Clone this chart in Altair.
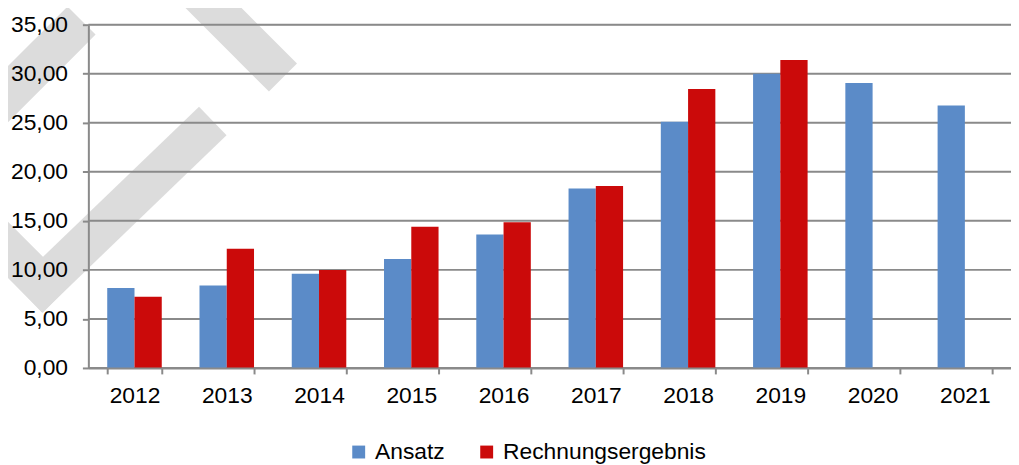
import altair as alt
import pandas as pd

# ---- data ----
years = ["2012", "2013", "2014", "2015", "2016", "2017", "2018", "2019", "2020", "2021"]
ansatz = [8.15, 8.4, 9.6, 11.1, 13.6, 18.3, 25.1, 30.0, 29.05, 26.75]
rechnung = [7.25, 12.15, 10.0, 14.4, 14.85, 18.55, 28.45, 31.4, None, None]
series = ["Ansatz", "Rechnungsergebnis"]
y_ticks = [0, 5, 10, 15, 20, 25, 30, 35]

# ---- styles ----
colors = ["#5B8BC8", "#CB0A0A"]
FONT = "Liberation Sans"
GRID = "#8A8A8A"
STRIPE = "#DCDCDC"
FS = 23

rows = []
for i, yr in enumerate(years):
    rows.append({"Jahr": yr, "Reihe": series[0], "Wert": ansatz[i]})
    rows.append({"Jahr": yr, "Reihe": series[1], "Wert": rechnung[i]})
df = pd.DataFrame(rows)

yscale = alt.Scale(domain=[0, 35], nice=False, zero=True)
yaxis = alt.Axis(
    values=y_ticks,
    labelExpr="replace(format(datum.value, '.2f'), '.', ',')",
    grid=False,
    domainColor=GRID, domainWidth=2,
    tickColor=GRID, tickWidth=2, tickSize=6,
    labelPadding=15, labelFontSize=FS, labelFont=FONT, labelColor="#000000",
    zindex=1, title=None,
)

# decorative watermark stripes (pixel positions, plot-area coordinates)
stripe_segments = [
    (-21, 10, -119, 108),
    (182, 39, 96, -47),
    (111, 111, -46, 262),
    (-46, 262, -119, 189),
]
stripes = []
for (x1, y1, x2, y2) in stripe_segments:
    stripes.append(
        alt.Chart(pd.DataFrame({"a": [0]})).mark_rule(
            color=STRIPE, strokeWidth=40, strokeCap="square"
        ).encode(x=alt.value(x1), y=alt.value(y1), x2=alt.value(x2), y2=alt.value(y2))
    )

grid = alt.Chart(pd.DataFrame({"v": y_ticks})).mark_rule(
    color=GRID, strokeWidth=2
).encode(y=alt.Y("v:Q", scale=yscale, axis=yaxis))

bars = alt.Chart(df).mark_bar().encode(
    x=alt.X(
        "Jahr:N", sort=years,
        scale=alt.Scale(paddingInner=0.409, paddingOuter=0.2045),
        axis=alt.Axis(
            tickBand="extent", labelAngle=0,
            domainColor=GRID, domainWidth=2,
            tickColor=GRID, tickWidth=2, tickSize=6,
            labelPadding=11, labelFontSize=FS, labelFont=FONT, labelColor="#000000",
            zindex=1, title=None,
        ),
    ),
    xOffset=alt.XOffset("Reihe:N", sort=series,
                        scale=alt.Scale(paddingInner=0, paddingOuter=0)),
    y=alt.Y("Wert:Q", scale=yscale, axis=yaxis),
    color=alt.Color(
        "Reihe:N",
        scale=alt.Scale(domain=series, range=colors),
        legend=alt.Legend(
            orient="none", legendX=261, legendY=419,
            direction="horizontal", title=None,
            symbolType="square", symbolSize=169, symbolStrokeWidth=0,
            labelFontSize=FS, labelFont=FONT, labelColor="#000000",
            labelOffset=5, columnPadding=30, padding=0, labelLimit=0,
        ),
    ),
)

chart = alt.layer(*stripes, grid, bars).properties(
    width=930, height=346,
    autosize=alt.AutoSizeParams(type="none"),
    padding={"left": 81, "top": 15, "right": 0, "bottom": 96},
).configure_view(stroke=None).configure(background="white")

chart.save("out.html", embed_options={"renderer": "svg", "actions": False})
